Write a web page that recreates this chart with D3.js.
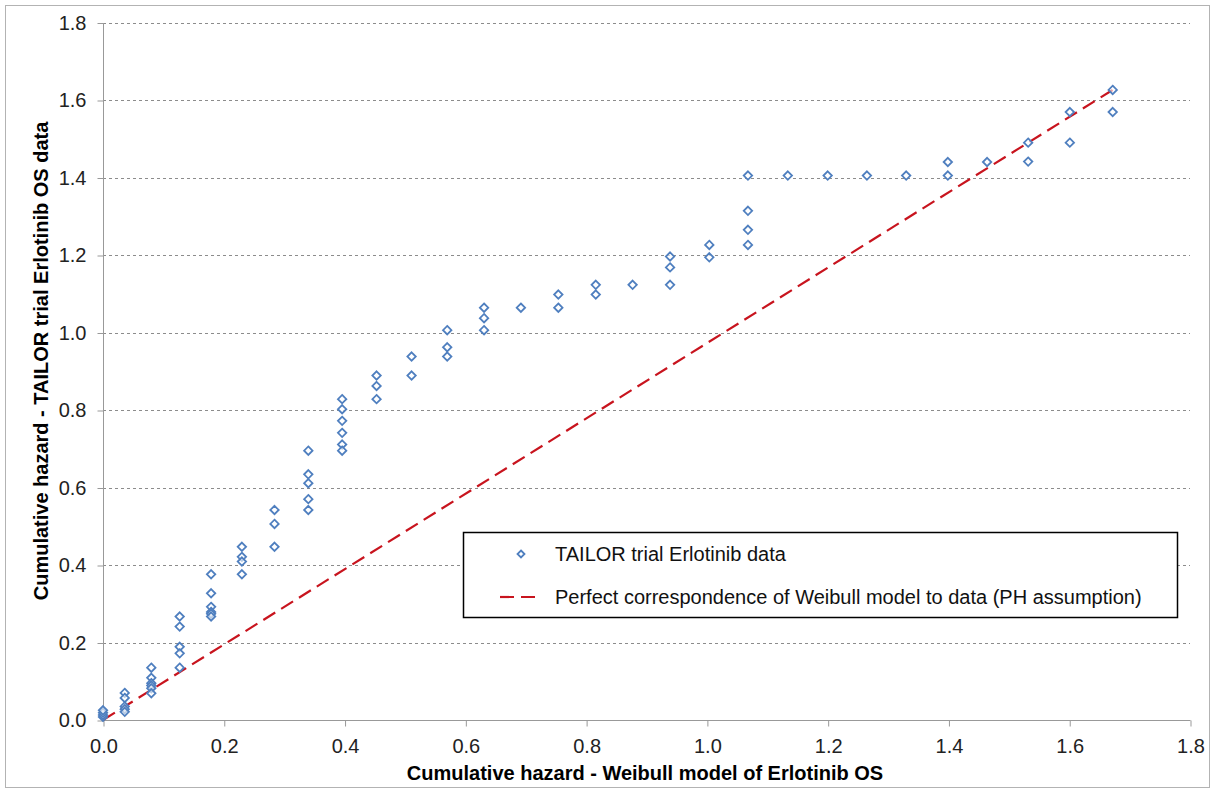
<!DOCTYPE html>
<html>
<head>
<meta charset="utf-8">
<script src="https://cdn.jsdelivr.net/npm/d3@7"></script>
<style>
  html, body { margin: 0; padding: 0; background: #fff; }
  svg { display: block; font-family: "Liberation Sans", Arial, sans-serif; }
</style>
</head>
<body>
<svg id="chart" width="1215" height="793"></svg>
<script>
// Weibull model cumulative hazard (x) for each observed point
const modelHazard = [
  0, 0, 0, 0,
  0.036, 0.036, 0.036, 0.036, 0.036,
  0.080, 0.080, 0.080, 0.080, 0.080, 0.080,
  0.127, 0.127, 0.127, 0.127, 0.127,
  0.179, 0.179, 0.179, 0.179, 0.179, 0.179,
  0.230, 0.230, 0.230, 0.230,
  0.284, 0.284, 0.284,
  0.340, 0.340, 0.340, 0.340, 0.340,
  0.396, 0.396, 0.396, 0.396, 0.396, 0.396,
  0.453, 0.453, 0.453,
  0.511, 0.511,
  0.570, 0.570, 0.570,
  0.631, 0.631, 0.631,
  0.692,
  0.754, 0.754,
  0.816, 0.816,
  0.877,
  0.939, 0.939, 0.939,
  1.004, 1.004,
  1.068, 1.068, 1.068, 1.068,
  1.134, 1.200, 1.265, 1.330,
  1.399, 1.399,
  1.464,
  1.532, 1.532,
  1.601, 1.601,
  1.672, 1.672
];
// TAILOR trial observed cumulative hazard (y)
const observedHazard = [
  0.008, 0.013, 0.019, 0.025,
  0.070, 0.057, 0.035, 0.028, 0.021,
  0.135, 0.109, 0.095, 0.089, 0.082, 0.069,
  0.267, 0.241, 0.189, 0.172, 0.135,
  0.376, 0.327, 0.292, 0.279, 0.274, 0.267,
  0.447, 0.421, 0.409, 0.376,
  0.542, 0.506, 0.447,
  0.695, 0.634, 0.611, 0.570, 0.542,
  0.828, 0.802, 0.772, 0.741, 0.711, 0.695,
  0.889, 0.862, 0.828,
  0.938, 0.889,
  1.006, 0.962, 0.938,
  1.064, 1.037, 1.006,
  1.064,
  1.098, 1.064,
  1.123, 1.098,
  1.123,
  1.196, 1.168, 1.123,
  1.226, 1.194,
  1.405, 1.314, 1.265, 1.226,
  1.405, 1.405, 1.405, 1.405,
  1.440, 1.405,
  1.440,
  1.490, 1.441,
  1.569, 1.490,
  1.626, 1.569
];
// Reference line endpoints (model vs data)
const refLineX = [0, 1.672];
const refLineY = [0, 1.626];
const xTicks = [0, 0.2, 0.4, 0.6, 0.8, 1.0, 1.2, 1.4, 1.6, 1.8];
const yTicks = [0, 0.2, 0.4, 0.6, 0.8, 1.0, 1.2, 1.4, 1.6, 1.8];
const seriesNames = ["TAILOR trial Erlotinib data", "Perfect correspondence of Weibull model to data (PH assumption)"];
const xTitle = "Cumulative hazard - Weibull model of Erlotinib OS";
const yTitle = "Cumulative hazard - TAILOR trial Erlotinib OS data";

(function () {
const svg = d3.select("#chart");
const W = 1215, H = 793;
const pLeft = 103, pRight = 1190, pTop = 22.5, pBottom = 720;
const FONT = "Liberation Sans, Arial, sans-serif";

const x = d3.scaleLinear().domain([0, 1.8]).range([pLeft, pRight]);
const y = d3.scaleLinear().domain([0, 1.8]).range([pBottom, pTop]);

// outer frame
svg.append("rect").attr("x", 5.5).attr("y", 5.5).attr("width", W - 11).attr("height", H - 11)
  .attr("fill", "#fff").attr("stroke", "#b3b3b3").attr("stroke-width", 1);

// gridlines
svg.append("g").selectAll("line").data(yTicks.filter(d => d > 0)).join("line")
  .attr("x1", pLeft).attr("x2", pRight)
  .attr("y1", d => Math.round(y(d)) + 0.5).attr("y2", d => Math.round(y(d)) + 0.5)
  .attr("stroke", "#8c8c8c").attr("stroke-width", 1).attr("stroke-dasharray", "3,3");

// y axis
const yAxis = d3.axisLeft(y).tickValues(yTicks).tickFormat(d3.format(".1f")).tickSize(6).tickPadding(11);
const gy = svg.append("g").attr("transform", `translate(${pLeft + 0.5},0.5)`).call(yAxis);
gy.select(".domain").attr("stroke", "#999").attr("d", `M0,${pTop}V${pBottom}`);
gy.selectAll(".tick line").attr("stroke", "#999");
gy.selectAll(".tick text").attr("font-size", 20).attr("fill", "#222").attr("font-family", FONT);

// x axis
const xAxis = d3.axisBottom(x).tickValues(xTicks).tickFormat(d3.format(".1f")).tickSize(6).tickPadding(12);
const gx = svg.append("g").attr("transform", `translate(0.5,${pBottom + 0.5})`).call(xAxis);
gx.select(".domain").attr("stroke", "#999").attr("d", `M${pLeft},0H${pRight}`);
gx.selectAll(".tick line").attr("stroke", "#999");
gx.selectAll(".tick text").attr("font-size", 20).attr("fill", "#222").attr("font-family", FONT);

// reference dashed line
svg.append("line")
  .attr("x1", x(refLineX[0])).attr("y1", y(refLineY[0]))
  .attr("x2", x(refLineX[1])).attr("y2", y(refLineY[1]))
  .attr("stroke", "#c8141e").attr("stroke-width", 2.2).attr("stroke-dasharray", "14,7");

// diamond markers
const diamond = (cx, cy, r) => `M${cx},${cy - r}L${cx + r},${cy}L${cx},${cy + r}L${cx - r},${cy}Z`;
svg.append("g").selectAll("path").data(modelHazard.map((d, i) => [d, observedHazard[i]])).join("path")
  .attr("d", d => diamond(x(d[0]), y(d[1]), 4.2))
  .attr("fill", "#fff").attr("fill-opacity", 0.6).attr("stroke", "#4f7fbf").attr("stroke-width", 1.8);

// axis titles
svg.append("text").attr("x", 645).attr("y", 780).attr("text-anchor", "middle")
  .attr("font-size", 20).attr("font-weight", "bold").attr("fill", "#000").text(xTitle);
svg.append("text").attr("transform", "translate(48,361) rotate(-90)").attr("text-anchor", "middle")
  .attr("font-size", 20).attr("font-weight", "bold").attr("fill", "#000").text(yTitle);

// legend
const lg = svg.append("g");
lg.append("rect").attr("x", 463.5).attr("y", 532.5).attr("width", 714).attr("height", 85)
  .attr("fill", "#fff").attr("stroke", "#000").attr("stroke-width", 1.5);
lg.append("path").attr("d", diamond(521, 554, 3.5)).attr("fill", "#fff").attr("stroke", "#4f7fbf").attr("stroke-width", 1.8);
lg.append("line").attr("x1", 500).attr("x2", 540).attr("y1", 597).attr("y2", 597)
  .attr("stroke", "#c8141e").attr("stroke-width", 2.2).attr("stroke-dasharray", "14,7");
lg.append("text").attr("x", 555).attr("y", 561).attr("font-size", 20).attr("fill", "#111").text(seriesNames[0]);
lg.append("text").attr("x", 555).attr("y", 604).attr("font-size", 20).attr("fill", "#111").text(seriesNames[1]);
})();
</script>
</body>
</html>
